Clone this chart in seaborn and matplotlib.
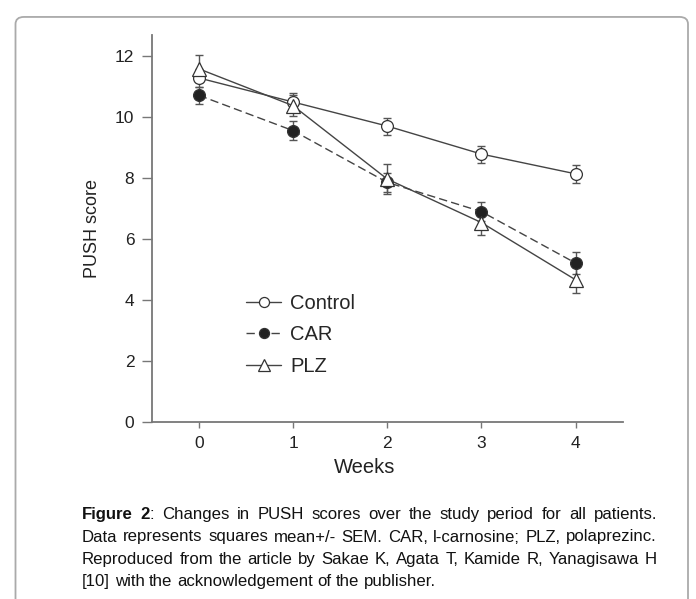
import matplotlib
matplotlib.use('Agg')
import matplotlib.pyplot as plt
import seaborn as sns
import pandas as pd
from matplotlib.patches import FancyBboxPatch

# PUSH score means and SEM
weeks = [0, 1, 2, 3, 4]
control = [11.29, 10.50, 9.71, 8.79, 8.14]
control_sem = [0.30, 0.30, 0.28, 0.28, 0.29]
car = [10.72, 9.56, 7.86, 6.90, 5.21]
car_sem = [0.27, 0.30, 0.30, 0.32, 0.35]
plz = [11.59, 10.38, 7.97, 6.54, 4.66]
plz_sem = [0.44, 0.35, 0.48, 0.42, 0.42]

caption_lines = [
    [[("Figure", "bold")], [("2", "bold"), (":", "normal")], "Changes", "in", "PUSH", "scores",
     "over", "the", "study", "period", "for", "all", "patients."],
    "Data represents squares mean+/- SEM. CAR, l-carnosine; PLZ, polaprezinc.".split(),
    "Reproduced from the article by Sakae K, Agata T, Kamide R, Yanagisawa H".split(),
    "[10] with the acknowledgement of the publisher.".split(),
]

sns.set_style('white')
plt.rcParams['font.family'] = ['Liberation Sans', 'DejaVu Sans']

W, H = 696, 599
fig = plt.figure(figsize=(W / 100, H / 100), dpi=100)
ax = fig.add_axes([151.7 / W, 1 - 421.7 / H, (622.7 - 151.7) / W, (421.7 - 35) / H])

line_col = '#444444'
series = [
    ('Control', control, control_sem, 'o', 'white', (None, None)),
    ('CAR', car, car_sem, 'o', '#222222', (6, 3)),
    ('PLZ', plz, plz_sem, '^', 'white', (None, None)),
]
handles = []
for name, vals, sem, mk, fc, dash in series:
    df = pd.DataFrame({'week': weeks, 'score': vals})
    ax.errorbar(weeks, vals, yerr=sem, fmt='none', ecolor='#555555',
                elinewidth=1.0, capsize=3.2, capthick=1.0, zorder=2)
    sns.lineplot(data=df, x='week', y='score', ax=ax, color=line_col, lw=1.0,
                 marker=mk, markersize=8.5 if mk == 'o' else 9.5,
                 markerfacecolor=fc, markeredgecolor='#333333', markeredgewidth=0.9,
                 zorder=3, label=name)
    ln = ax.lines[-1]
    if dash[0] is not None:
        ln.set_dashes(dash)
    handles.append(ln)

ax.set_xlim(-0.5, 4.5)
ax.set_ylim(0, 12.7)
ax.set_xticks(weeks)
ax.set_yticks([0, 2, 4, 6, 8, 10, 12])
for s in ['top', 'right']:
    ax.spines[s].set_visible(False)
for s in ['left', 'bottom']:
    ax.spines[s].set_color('#777777')
    ax.spines[s].set_linewidth(1.3)
ax.tick_params(axis='y', direction='out', length=7.5, width=1.0, color='#777777',
               labelsize=12.5, labelcolor='#222222', pad=5, left=True)
ax.tick_params(axis='x', direction='out', length=4, width=1.0, color='#777777',
               labelsize=12.5, labelcolor='#222222', pad=6, bottom=True)
ax.set_xlabel('Weeks', fontsize=14.5, color='#222222', labelpad=6)
ax.xaxis.set_label_coords((365 - 151.7) / (622.7 - 151.7), -0.095)
ax.set_ylabel('PUSH score', fontsize=13, color='#222222', labelpad=10)

leg = ax.legend(handles=handles, labels=['Control', 'CAR', 'PLZ'], frameon=False,
                loc='center left', bbox_to_anchor=(228 / W, 1 - 335 / H),
                bbox_transform=fig.transFigure, fontsize=14.5, markerscale=0.85,
                handlelength=1.75, handletextpad=0.45, labelspacing=0.6)

# rounded border box
box = FancyBboxPatch((15.5 / W, -0.05), (688 - 15.5) / W, (H - 17 + 30) / H,
                     boxstyle='round,pad=0,rounding_size=0.012',
                     transform=fig.transFigure, fill=False, ec='#aaaaaa', lw=1.3)
fig.patches.append(box)

# justified caption
fig.canvas.draw()
r = fig.canvas.get_renderer()
x0, x1 = 82, 657
cap_fs = 12.1

def word_parts(w):
    return w if isinstance(w, list) else [(w, 'normal')]

def part_width(txt, wt):
    t = fig.text(0, 0, txt, fontsize=cap_fs, weight=wt)
    wd = t.get_window_extent(r).width
    t.remove()
    return wd

for i, words in enumerate(caption_lines):
    base = 519.3 + 22.2 * i
    widths = [[part_width(t, wt) for t, wt in word_parts(w)] for w in words]
    totals = [sum(ws) for ws in widths]
    if i < 3:
        gap = (x1 - x0 - sum(totals)) / (len(words) - 1)
    else:
        gap = part_width('a b', 'normal') - part_width('ab', 'normal')
    x = x0
    for w, ws in zip(words, widths):
        xx = x
        for (t, wt), wd in zip(word_parts(w), ws):
            fig.text(xx / W, 1 - base / H, t, fontsize=cap_fs,
                     weight=wt, color='#111111', va='baseline', ha='left')
            xx += wd
        x += sum(ws) + gap

fig.savefig('out.png', dpi=100)
